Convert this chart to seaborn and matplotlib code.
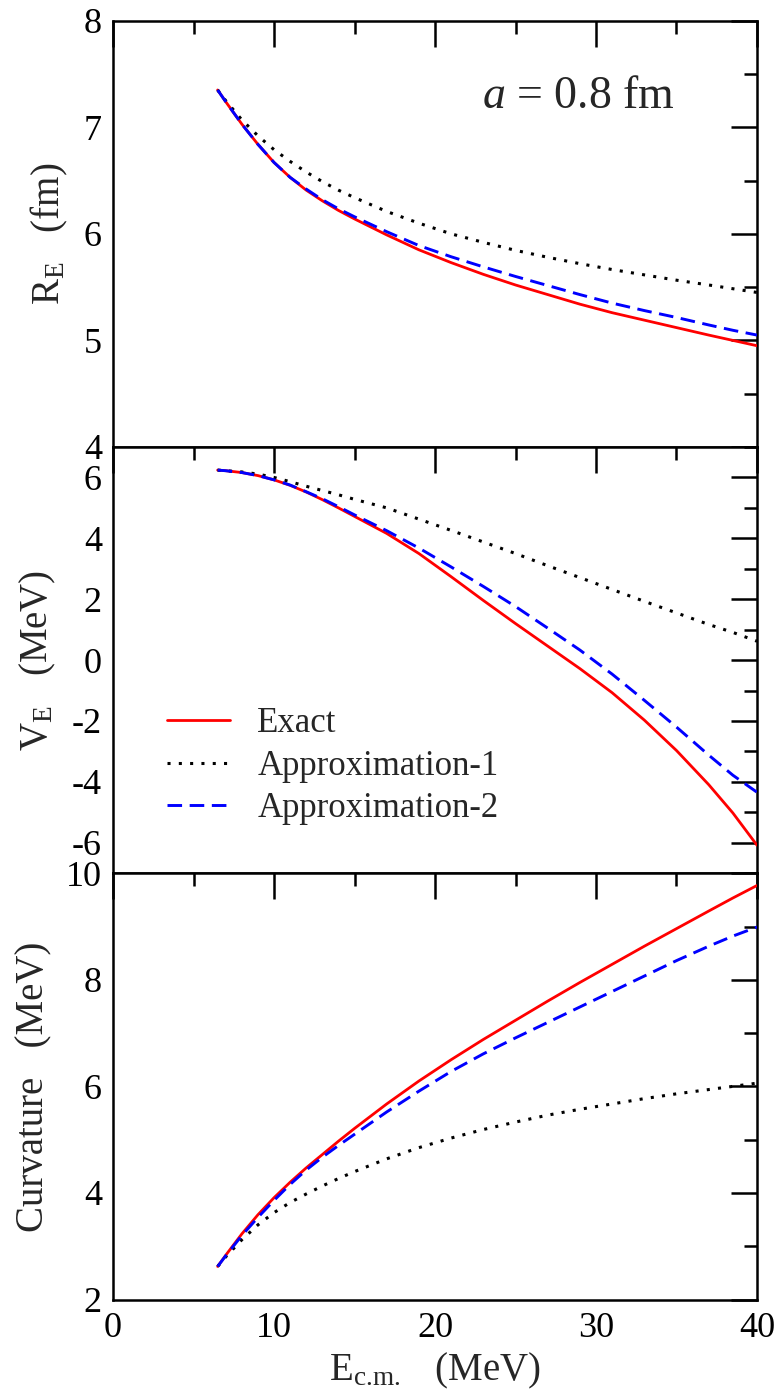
import numpy as np
import pandas as pd
import matplotlib
matplotlib.use("Agg")
import matplotlib.pyplot as plt
import seaborn as sns
from matplotlib.ticker import MultipleLocator

# ---------------- data ----------------
E_cm = [6.5, 7, 8, 9, 10, 11, 12, 13, 14, 15, 17, 19, 21, 23, 25, 27, 29, 31, 33, 35, 37, 38.5, 40]

R_exact = [7.35, 7.24, 7.03, 6.84, 6.67, 6.53, 6.41, 6.31, 6.22, 6.14, 5.99, 5.85, 5.73, 5.62,
           5.52, 5.43, 5.34, 5.26, 5.19, 5.12, 5.05, 5.00, 4.95]
R_approx1 = [7.35, 7.25, 7.07, 6.92, 6.79, 6.68, 6.58, 6.49, 6.41, 6.34, 6.21, 6.10, 6.00, 5.92,
             5.845, 5.78, 5.72, 5.665, 5.615, 5.565, 5.52, 5.485, 5.45]
R_approx2 = [7.35, 7.24, 7.03, 6.84, 6.67, 6.53, 6.42, 6.32, 6.235, 6.16, 6.02, 5.89, 5.785, 5.69,
             5.60, 5.515, 5.43, 5.35, 5.28, 5.215, 5.145, 5.095, 5.05]

V_exact = [6.24, 6.22, 6.16, 6.06, 5.92, 5.74, 5.52, 5.27, 5.00, 4.72, 4.16, 3.50, 2.74, 1.96,
           1.20, 0.46, -0.28, -1.07, -1.97, -2.97, -4.09, -5.02, -6.08]
V_approx1 = [6.24, 6.22, 6.18, 6.11, 6.00, 5.86, 5.71, 5.57, 5.43, 5.28, 5.00, 4.63, 4.26, 3.88,
             3.50, 3.10, 2.71, 2.32, 1.93, 1.55, 1.17, 0.91, 0.62]
V_approx2 = [6.24, 6.22, 6.16, 6.06, 5.92, 5.75, 5.53, 5.30, 5.04, 4.77, 4.25, 3.68, 3.06, 2.42,
             1.76, 1.05, 0.33, -0.46, -1.32, -2.20, -3.12, -3.78, -4.34]

C_exact = [2.62, 2.83, 3.23, 3.59, 3.91, 4.20, 4.47, 4.72, 4.97, 5.21, 5.67, 6.10, 6.50, 6.88,
           7.24, 7.60, 7.95, 8.29, 8.63, 8.96, 9.29, 9.535, 9.77]
C_approx1 = [2.62, 2.80, 3.12, 3.40, 3.63, 3.82, 3.98, 4.13, 4.27, 4.40, 4.64, 4.85, 5.03, 5.19,
             5.33, 5.46, 5.57, 5.67, 5.77, 5.86, 5.94, 6.00, 6.06]
C_approx2 = [2.62, 2.82, 3.20, 3.54, 3.86, 4.16, 4.43, 4.67, 4.89, 5.10, 5.52, 5.91, 6.28, 6.61,
             6.91, 7.20, 7.49, 7.78, 8.07, 8.36, 8.63, 8.82, 8.99]

series_names = ["Exact", "Approximation-1", "Approximation-2"]
y_labels = [r"R$_{\rm E}$   (fm)", r"V$_{\rm E}$   (MeV)", r"Curvature   (MeV)"]
x_label = r"E$_{\rm c.\!m.}$   (MeV)"
annotation = r"$a$ = 0.8 fm"

# ---------------- style ----------------
sns.set_style("white")
plt.rcParams.update({
    "font.family": ["Liberation Serif", "DejaVu Serif"],
    "mathtext.fontset": "custom",
    "mathtext.rm": "Liberation Serif",
    "mathtext.it": "Liberation Serif:italic",
    "mathtext.bf": "Liberation Serif:bold",
    "axes.unicode_minus": False,
    "axes.linewidth": 1.8,
    "axes.edgecolor": "black",
})

colors = {"Exact": "#ff0000", "Approximation-1": "#000000", "Approximation-2": "#0000ff"}
styles = {"Exact": "-", "Approximation-1": (0, (1.0, 2.7)), "Approximation-2": (0, (5.0, 2.6))}
widths = {"Exact": 2.0, "Approximation-1": 2.2, "Approximation-2": 2.1}

fig, axes = plt.subplots(3, 1, sharex=True, figsize=(7.79, 13.97), dpi=100,
                         gridspec_kw={"hspace": 0})
fig.subplots_adjust(left=113 / 779, right=757 / 779, top=1 - 20.7 / 1397, bottom=1 - 1299.5 / 1397)

panels = [
    (R_exact, R_approx1, R_approx2, (4, 8), 1, 0.5),
    (V_exact, V_approx1, V_approx2, (-7, 7), 2, 1),
    (C_exact, C_approx1, C_approx2, (2, 10), 2, 1),
]

for i, (ax, (ex, a1, a2, ylim, maj, mnr)) in enumerate(zip(axes, panels)):
    for name, vals in zip(series_names, [ex, a1, a2]):
        df = pd.DataFrame({"E": E_cm, "val": vals})
        sns.lineplot(data=df, x="E", y="val", ax=ax, color=colors[name],
                     linestyle=styles[name], linewidth=widths[name], label=name,
                     legend=False, zorder=3 if name == "Exact" else 4)
    ax.set_xlim(0, 40)
    ax.set_ylim(*ylim)
    ax.yaxis.set_major_locator(MultipleLocator(maj))
    ax.yaxis.set_minor_locator(MultipleLocator(mnr))
    ax.xaxis.set_major_locator(MultipleLocator(10))
    ax.xaxis.set_minor_locator(MultipleLocator(5))
    ax.tick_params(which="both", direction="in", top=True, right=True, width=1.8,
                   labelsize=26, colors="black")
    ax.tick_params(which="major", length=19)
    ax.tick_params(which="minor", length=9.5)
    ax.tick_params(axis="y", pad=8)
    ax.tick_params(axis="x", pad=9)
    ax.set_ylabel(y_labels[i], fontsize=28, labelpad=10)
    ax.set_xlabel("")
    for s in ax.spines.values():
        s.set_linewidth(1.8)
        s.set_color("black")

axes[2].set_xlabel(x_label, fontsize=28, labelpad=4)

axes[0].text(22.9, 7.18, annotation, fontsize=33, va="baseline", ha="left")

axes[1].legend(loc="upper left", bbox_to_anchor=(0.084, 0.39), frameon=False,
               fontsize=25, handlelength=1.8, handletextpad=0.8, labelspacing=0.28,
               borderpad=0, borderaxespad=0)

fig.savefig("out.png", dpi=100)
